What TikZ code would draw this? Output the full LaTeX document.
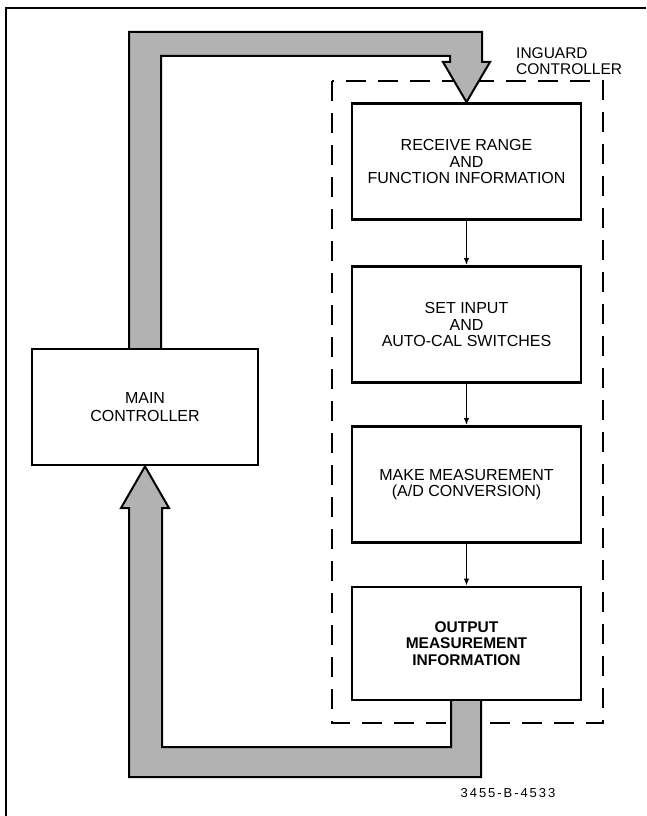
\documentclass[tikz,border=0pt]{standalone}
\usepackage{fontspec}
\setmainfont{Liberation Sans}
\usetikzlibrary{arrows.meta}
\pgfdeclarelayer{guardlayer}
\pgfdeclarelayer{bandlayer}
\pgfsetlayers{guardlayer,bandlayer,main}
\begin{document}
\begin{tikzpicture}[x=1pt,y=-1pt,
  stepbox/.style={draw=black, line width=2.8pt, fill=white, minimum width=229pt, minimum height=116pt, align=center, inner sep=0pt, font=\fontsize{16}{16.8}\selectfont},
  band/.style={draw=black, line width=2pt, fill=black!30, line join=miter},
  conn/.style={draw=black, line width=1.8pt, -{Latex[length=7pt,width=5.5pt]}},
  guard/.style={draw=black, line width=1.8pt, dash pattern=on 20pt off 12pt},
  frameline/.style={draw=black, line width=2.6pt}
]
\useasboundingbox (0,0) rectangle (646,816);
% frame
\draw[frameline] (646,8) -- (6,8) -- (6,816);
% nodes
\node[stepbox, minimum width=226pt] (main) at (145,407) {MAIN\\[1.5pt]CONTROLLER};
\node[stepbox] (recv) at (466.5,161.5) {RECEIVE RANGE\\AND\\FUNCTION INFORMATION};
\node[stepbox] (set) at (466.5,324.5) {SET INPUT\\AND\\AUTO-CAL SWITCHES};
\node[stepbox] (meas) at (466.5,484.5) {MAKE MEASUREMENT\\(A/D CONVERSION)};
\node[stepbox, minimum height=113pt, font=\fontsize{15.5}{16.8}\selectfont\bfseries] (outp) at (466.5,643.5) {OUTPUT\\MEASUREMENT\\INFORMATION};
% inguard dashed box
\begin{pgfonlayer}{guardlayer}
\draw[guard] (332,81) rectangle (603,723);
\end{pgfonlayer}
\node[anchor=west, align=left, inner sep=0pt, font=\fontsize{15.5}{16.5}\selectfont] (glabel) at (516,61) {INGUARD\\CONTROLLER};
% bands
\begin{pgfonlayer}{bandlayer}
\path[band] (129,349) -- (129,32) -- (482,32) -- (482,62) -- (490,62) -- (recv.north) -- (443,62) -- (450,62) -- (450,56) -- (161,56) -- (161,349) -- cycle;
\path[band] (451,698) -- (451,747) -- (162,747) -- (162,508) -- (169,508) -- (main.south) -- (121,508) -- (129,508) -- (129,777) -- (481,777) -- (481,698) -- cycle;
\end{pgfonlayer}
% connectors
\draw[conn] (recv.south) -- (set.north);
\draw[conn] (set.south) -- (meas.north);
\draw[conn] (meas.south) -- (outp.north);
% figure number
\node[inner sep=0pt, font=\fontsize{13}{15}\selectfont\addfontfeatures{LetterSpace=15}] (fignum) at (508,793) {3455-B-4533};
\end{tikzpicture}
\end{document}
